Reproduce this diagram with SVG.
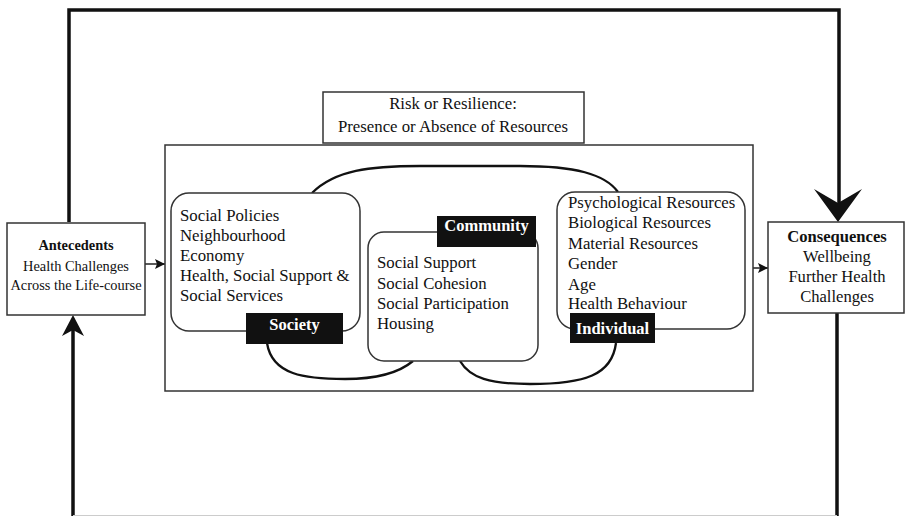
<svg xmlns="http://www.w3.org/2000/svg" width="906" height="516" viewBox="0 0 906 516">
<defs>
<style>
.t{font-family:"Liberation Serif","Times New Roman",serif;fill:#111;}
.b{font-size:16.8px;}
.s{font-size:14.4px;}
.c{font-size:16.6px;}
.bold{font-weight:bold;}
.lab{font-family:"Liberation Serif","Times New Roman",serif;font-weight:bold;font-size:16.5px;fill:#fff;}
.box{fill:#fff;stroke:#333;stroke-width:1.5;}
.rbox{fill:#fff;stroke:#333;stroke-width:1.5;}
.thick{fill:none;stroke:#111;stroke-width:3.5;}
.curve{fill:none;stroke:#111;stroke-width:2.3;}
.thin{fill:none;stroke:#222;stroke-width:1.5;}
</style>
<marker id="ah" viewBox="0 0 10 10" refX="10" refY="5" markerWidth="10" markerHeight="10" markerUnits="userSpaceOnUse" orient="auto">
<path d="M0,0 L10,5 L0,10 L2,5 Z" fill="#111"/>
</marker>
</defs>
<rect width="906" height="516" fill="#fff"/>

<g id="connectors">
<polyline class="thick" points="69,222 69,10 839,10 839,205"/>
<path d="M838,222 L814,189 L838,203 L862,189 Z" fill="#111"/>
<line class="thick" x1="73" y1="516" x2="73" y2="330"/>
<path d="M73,315 L62,336 L73,330 L84,336 Z" fill="#111"/>
<line class="thick" x1="837" y1="313" x2="837" y2="516"/>
<line x1="73" y1="515.5" x2="837" y2="515.5" stroke="#ccc" stroke-width="1"/>
<line class="thin" x1="145" y1="264" x2="165" y2="264" marker-end="url(#ah)"/>
<line class="thin" x1="753" y1="268" x2="768" y2="268" marker-end="url(#ah)"/>
</g>

<g id="resilience">
<rect class="box" x="323" y="92" width="261" height="51"/>
<text class="t b" x="453" y="109" text-anchor="middle">Risk or Resilience:</text>
<text class="t b" x="453" y="132" text-anchor="middle">Presence or Absence of Resources</text>
</g>

<g id="resources-frame">
<rect class="box" x="165" y="145" width="588" height="246"/>
</g>

<g id="loops">
<path class="curve" d="M312,193 C335,170 370,166 420,166 L520,166 C575,166 605,174 618,192"/>
<path class="curve" d="M267,343 C272,375 305,379 345,379 C380,379 400,372 413,361"/>
<path class="curve" d="M460,361 C470,378 490,384 530,384 C585,384 612,375 616,343"/>
</g>

<g id="antecedents">
<rect class="box" x="7" y="223" width="138" height="92"/>
<text class="t s bold" x="76" y="250" text-anchor="middle">Antecedents</text>
<text class="t s" x="76" y="271" text-anchor="middle">Health Challenges</text>
<text class="t s" x="76" y="290" text-anchor="middle">Across the Life-course</text>
</g>

<g id="consequences">
<rect class="box" x="768" y="222" width="136" height="91"/>
<text class="t c bold" x="837" y="242" text-anchor="middle">Consequences</text>
<text class="t c" x="837" y="262" text-anchor="middle">Wellbeing</text>
<text class="t c" x="837" y="282" text-anchor="middle">Further Health</text>
<text class="t c" x="837" y="302" text-anchor="middle">Challenges</text>
</g>

<g id="society">
<rect class="rbox" x="171" y="193" width="189" height="138" rx="18" ry="18"/>
<text class="t b" x="180" y="221">Social Policies</text>
<text class="t b" x="180" y="241">Neighbourhood</text>
<text class="t b" x="180" y="261">Economy</text>
<text class="t b" x="180" y="281">Health, Social Support &amp;</text>
<text class="t b" x="180" y="301">Social Services</text>
<rect x="246" y="313" width="97" height="31" fill="#111"/>
<text class="lab" x="294.500" y="330" text-anchor="middle">Society</text>
</g>

<g id="community">
<rect class="rbox" x="368" y="232" width="170" height="129" rx="16" ry="16"/>
<text class="t b" x="377" y="268">Social Support</text>
<text class="t b" x="377" y="289">Social Cohesion</text>
<text class="t b" x="377" y="309">Social Participation</text>
<text class="t b" x="377" y="329">Housing</text>
<rect x="437" y="216" width="99" height="31" fill="#111"/>
<text class="lab" x="486.500" y="231" text-anchor="middle">Community</text>
</g>

<g id="individual">
<rect class="rbox" x="557" y="192" width="188" height="137" rx="18" ry="18"/>
<text class="t b" x="568" y="208">Psychological Resources</text>
<text class="t b" x="568" y="228">Biological Resources</text>
<text class="t b" x="568" y="249">Material Resources</text>
<text class="t b" x="568" y="269">Gender</text>
<text class="t b" x="568" y="290">Age</text>
<text class="t b" x="568" y="309">Health Behaviour</text>
<rect x="570" y="313" width="85" height="30" fill="#111"/>
<text class="lab" x="612.500" y="334" text-anchor="middle">Individual</text>
</g>
</svg>
